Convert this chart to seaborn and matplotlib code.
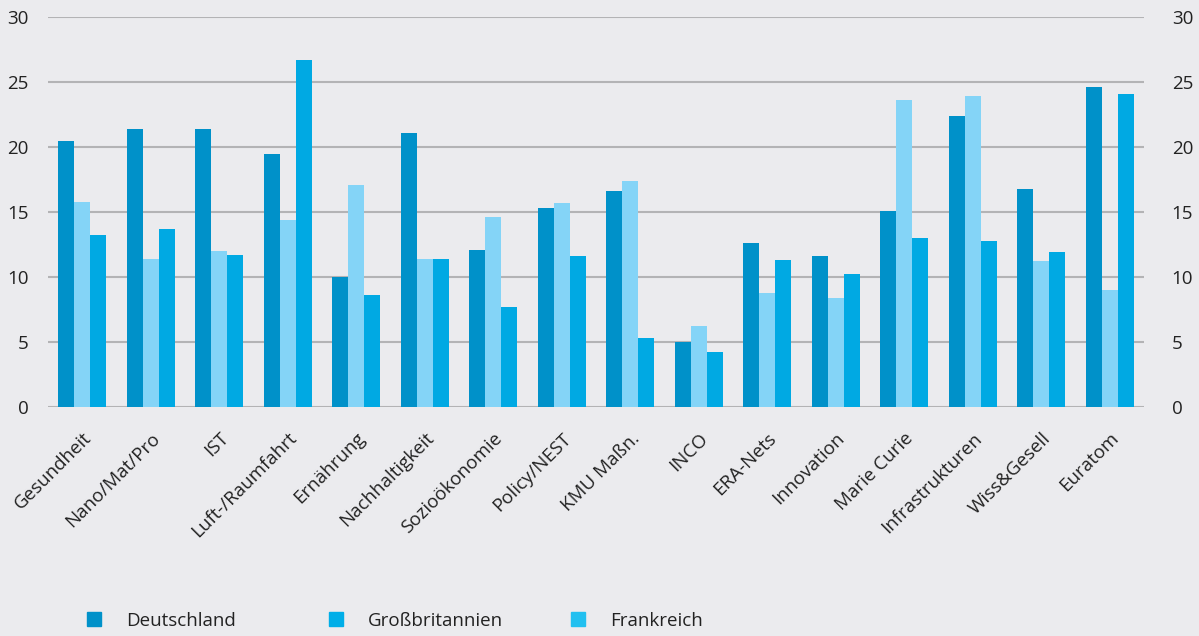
import matplotlib
matplotlib.use("Agg")
import matplotlib.pyplot as plt
from matplotlib.lines import Line2D
import seaborn as sns
import pandas as pd
import numpy as np

categories = ["Gesundheit", "Nano/Mat/Pro", "IST", "Luft-/Raumfahrt", "Ernährung",
              "Nachhaltigkeit", "Sozioökonomie", "Policy/NEST", "KMU Maßn.", "INCO",
              "ERA-Nets", "Innovation", "Marie Curie", "Infrastrukturen", "Wiss&Gesell", "Euratom"]
series = ["Deutschland", "Großbritannien", "Frankreich"]
deutschland = [20.5, 21.4, 21.4, 19.5, 10.0, 21.1, 12.1, 15.3, 16.6, 5.0, 12.6, 11.6, 15.1, 22.4, 16.8, 24.6]
grossbritannien = [15.8, 11.4, 12.0, 14.4, 17.1, 11.4, 14.6, 15.7, 17.4, 6.2, 8.8, 8.4, 23.6, 23.9, 11.2, 9.0]
frankreich = [13.2, 13.7, 11.7, 26.7, 8.6, 11.4, 7.7, 11.6, 5.3, 4.2, 11.3, 10.2, 13.0, 12.8, 11.9, 24.1]
yticks = [0, 5, 10, 15, 20, 25, 30]

bar_colors = ["#0091c9", "#84d4f7", "#00a9e3"]
legend_colors = ["#0091c9", "#00aee8", "#22c0f0"]
bg = "#ebebee"
grid_c = "#b3b3b5"
text_c = "#222222"

df = pd.DataFrame({
    "Kategorie": categories * 3,
    "Land": np.repeat(series, len(categories)),
    "Wert": deutschland + grossbritannien + frankreich,
})

sns.set_theme(style="white")
plt.rcParams["font.family"] = ["Open Sans", "DejaVu Sans"]

fig = plt.figure(figsize=(11.99, 6.36), dpi=100, facecolor=bg)
ax = fig.add_axes([48/1199, 1-407/636, (1144-48)/1199, (407-17)/636])
ax.set_facecolor(bg)

sns.barplot(data=df, x="Kategorie", y="Wert", hue="Land", hue_order=series,
            order=categories, palette=bar_colors, width=0.7, gap=0,
            saturation=1, ax=ax, legend=False, zorder=3, linewidth=0, edgecolor="none")

ax.set_ylim(0, 30)
ax.set_xlim(-0.5, len(categories) - 0.5)
ax.set_yticks(yticks)
ax.set_yticklabels([str(v) for v in yticks], fontsize=13.5, color=text_c)
ax.yaxis.grid(True, color=grid_c, linewidth=1.5, zorder=0)
ax.set_axisbelow(True)
ax.tick_params(axis="y", length=0, pad=14)
for s in ax.spines.values():
    s.set_visible(False)
ax.set_xlabel("")
ax.set_ylabel("")

ax.set_xticks(range(len(categories)))
ax.set_xticklabels(categories, rotation=45, ha="right", rotation_mode="anchor",
                   fontsize=13.5, color=text_c)
ax.tick_params(axis="x", which="major", length=0, pad=16)
ax.set_xticks(np.arange(-0.5, len(categories), 1.0), minor=True)
ax.tick_params(axis="x", which="minor", length=9, width=1.4, color="#555555", direction="out")

ax2 = ax.twinx()
ax2.set_ylim(0, 30)
ax2.set_yticks(yticks)
ax2.set_yticklabels([str(v) for v in yticks], fontsize=13.5, color=text_c)
ax2.tick_params(axis="y", length=0, pad=20)
for s in ax2.spines.values():
    s.set_visible(False)

legend_x = [86, 328, 570]
for name, col, lx in zip(series, legend_colors, legend_x):
    h = Line2D([], [], marker="s", linestyle="", markersize=10, color=col)
    fig.legend([h], [name], loc="center left", bbox_to_anchor=(lx/1199, 1-621/636),
               frameon=False, fontsize=13.5, handlelength=0.8, handletextpad=1.35,
               borderpad=0, borderaxespad=0, labelcolor=text_c)

fig.savefig("out.png", dpi=100, facecolor=bg)
